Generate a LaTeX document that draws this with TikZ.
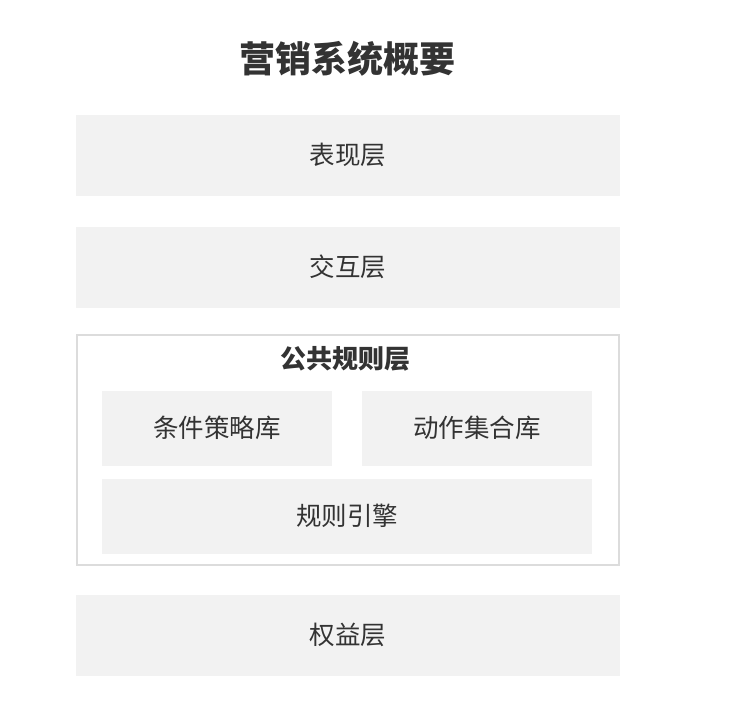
\documentclass[tikz,border=0pt]{standalone}
\usepackage{fontspec}
\setmainfont{Noto Sans CJK SC}
\usepackage{tikz}
\usetikzlibrary{positioning}
\definecolor{layerfill}{HTML}{F2F2F2}
\definecolor{layerline}{HTML}{DCDCDC}
\definecolor{labeltext}{HTML}{333333}
\tikzset{
  layer/.style={rectangle,fill=layerfill,inner sep=0pt,outer sep=0pt,minimum width=544pt,minimum height=81pt,text=labeltext,font=\fontsize{25.5}{28}\selectfont},
  module/.style={rectangle,fill=layerfill,inner sep=0pt,outer sep=0pt,minimum width=230pt,minimum height=75pt,text=labeltext,font=\fontsize{25.5}{28}\selectfont},
  group/.style={rectangle,draw=layerline,line width=1.5pt,inner sep=0pt,minimum width=542pt,minimum height=230pt}
}
\begin{document}
\begin{tikzpicture}[x=1pt,y=-1pt]
\useasboundingbox (0,0) rectangle (732,716);
\node (title)[text=labeltext,font=\fontsize{36}{40}\selectfont\bfseries] at (347,59) {营销系统概要};
\node[layer] (pres) at (348,155) {表现层};
\node[layer] (inter) at (348,267) {交互层};
\node[group] (pub) at (348,450) {};
\node (pubtitle)[text=labeltext,font=\fontsize{26}{28}\selectfont\bfseries] at (345,359) {公共规则层};
\node[module] (cond) at (217,428) {条件策略库};
\node[module] (act) at (477,428) {动作集合库};
\node[module,minimum width=490pt] (engine) at (347,516) {规则引擎};
\node[layer] (equity) at (348,635) {权益层};
\end{tikzpicture}
\end{document}
